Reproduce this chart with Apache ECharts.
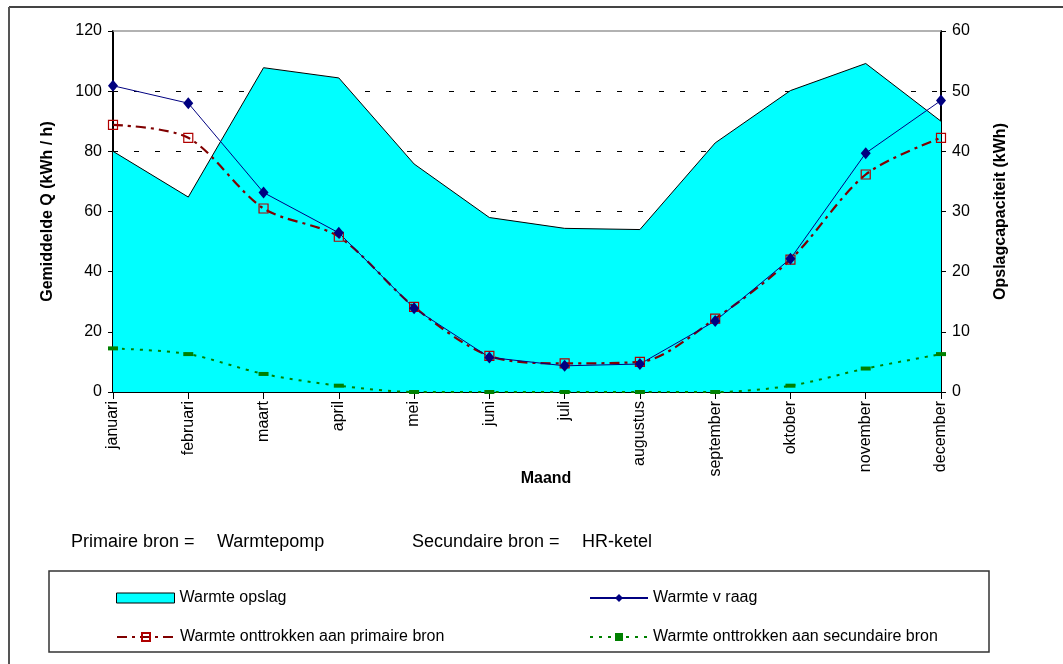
<!DOCTYPE html>
<html>
<head>
<meta charset="utf-8">
<script src="https://cdn.jsdelivr.net/npm/echarts@6/dist/echarts.min.js"></script>
<style>
  html, body { margin: 0; padding: 0; background: #fff; }
  #chart { width: 1063px; height: 664px; }
</style>
</head>
<body>
<div id="chart"></div>
<script>
// maanden
const months = ['januari', 'februari', 'maart', 'april', 'mei', 'juni', 'juli', 'augustus', 'september', 'oktober', 'november', 'december']
// opslagcapaciteit (kWh), rechter as
const opslag = [40, 32.4, 53.9, 52.2, 37.9, 29, 27.2, 27, 41.4, 50.1, 54.6, 45]
// gemiddelde Q (kWh / h), linker as
const vraag = [101.8, 96, 66.3, 52.9, 27.8, 11.5, 8.7, 9.3, 23.6, 44.3, 79.4, 96.9]
const primair = [88.8, 84.5, 61, 51.6, 28.3, 12, 9.5, 10, 24.4, 44, 72.3, 84.5]
const secundair = [14.5, 12.6, 6, 2.1, 0, 0, 0, 0, 0, 2.1, 7.8, 12.6]

const FONT = 'Liberation Sans, Arial, sans-serif'
const chart = echarts.init(document.getElementById('chart'))

const legendBase = {
  orient: 'horizontal',
  itemWidth: 58,
  itemHeight: 10,
  selectedMode: false,
  textStyle: { fontFamily: FONT, fontSize: 16, color: '#000' }
}

const axisNameStyle = { fontFamily: FONT, fontSize: 16, fontWeight: 'bold', color: '#000' }

chart.setOption({
  animation: false,
  textStyle: { fontFamily: FONT },
  grid: { left: 113, right: 122, top: 31, bottom: 272 },
  legend: [
    { ...legendBase, left: 111, top: 585, data: [{ name: 'Warmte opslag', icon: 'rect', itemStyle: { color: '#00ffff', borderColor: '#000', borderWidth: 1 } }] },
    { ...legendBase, left: 584, top: 585, data: ['Warmte v raag'] },
    { ...legendBase, left: 111, top: 624, data: ['Warmte onttrokken aan primaire bron'] },
    { ...legendBase, left: 584, top: 624, data: ['Warmte onttrokken aan secundaire bron'] }
  ],
  xAxis: {
    type: 'category',
    data: months,
    boundaryGap: false,
    name: 'Maand',
    nameLocation: 'middle',
    nameGap: 79,
    nameMoveOverlap: false,
    nameTextStyle: { ...axisNameStyle, padding: [0, 0, 0, 38] },
    axisLine: { lineStyle: { color: '#000', width: 2 } },
    axisTick: { length: 7, lineStyle: { color: '#000' } },
    axisLabel: { rotate: 90, fontSize: 16, color: '#000', margin: 9, interval: 0 }
  },
  yAxis: [
    {
      type: 'value',
      min: 0, max: 120, interval: 20,
      name: 'Gemiddelde Q (kWh / h)',
      nameLocation: 'middle',
      nameRotate: 90,
      nameGap: 57,
      nameMoveOverlap: false,
      nameTextStyle: axisNameStyle,
      axisLine: { show: true, lineStyle: { color: '#000', width: 2 } },
      axisTick: { show: true, length: 5, lineStyle: { color: '#000' } },
      axisLabel: { fontSize: 16, color: '#000', margin: 11 },
      splitLine: {
        show: true,
        lineStyle: {
          color: ['#000', '#000', '#000', '#000', '#000', '#000', 'rgba(0,0,0,0)'],
          type: [5, 16],
          width: 1
        }
      }
    },
    {
      type: 'value',
      min: 0, max: 60, interval: 10,
      name: 'Opslagcapaciteit (kWh)',
      nameLocation: 'middle',
      nameRotate: 90,
      nameGap: 52,
      nameMoveOverlap: false,
      nameTextStyle: axisNameStyle,
      axisLine: { show: true, lineStyle: { color: '#000', width: 2 } },
      axisTick: { show: true, length: 5, lineStyle: { color: '#000' } },
      axisLabel: { fontSize: 16, color: '#000', margin: 11 },
      splitLine: { show: false }
    }
  ],
  series: [
    {
      name: 'Warmte opslag',
      type: 'line',
      yAxisIndex: 1,
      data: opslag,
      symbol: 'none',
      lineStyle: { color: '#000', width: 1 },
      itemStyle: { color: '#00ffff' },
      areaStyle: { color: '#00ffff', opacity: 1 },
      markLine: {
        silent: true,
        symbol: 'none',
        label: { show: false },
        lineStyle: { color: '#999', type: 'solid', width: 1.5 },
        data: [{ yAxis: 60 }]
      }
    },
    {
      name: 'Warmte onttrokken aan primaire bron',
      type: 'line',
      data: primair,
      smooth: 0.3,
      symbol: 'rect',
      symbolSize: 9,
      lineStyle: { color: '#800000', width: 2.2, type: [10, 5, 3, 5] },
      itemStyle: { color: 'rgba(0,0,0,0)', borderColor: '#b00000', borderWidth: 1.2 }
    },
    {
      name: 'Warmte onttrokken aan secundaire bron',
      type: 'line',
      data: secundair,
      smooth: 0.3,
      symbol: 'rect',
      symbolSize: [10, 4],
      lineStyle: { color: '#008000', width: 2, type: [3, 6] },
      itemStyle: { color: '#008000' }
    },
    {
      name: 'Warmte v raag',
      type: 'line',
      data: vraag,
      symbol: 'diamond',
      symbolSize: [10, 12],
      lineStyle: { color: '#000080', width: 1 },
      itemStyle: { color: '#000080' }
    }
  ],
  graphic: [
    { type: 'line', shape: { x1: 9, y1: 7, x2: 1063, y2: 7 }, style: { stroke: '#444', lineWidth: 2 } },
    { type: 'line', shape: { x1: 9, y1: 7, x2: 9, y2: 664 }, style: { stroke: '#555', lineWidth: 2 } },
    { type: 'rect', z: -1, shape: { x: 49, y: 571, width: 940, height: 81 }, style: { fill: '#fff', stroke: '#333', lineWidth: 1.5 } },
    { type: 'text', left: 71, top: 533, style: { text: 'Primaire bron =', font: '18px ' + FONT, fill: '#000' } },
    { type: 'text', left: 217, top: 533, style: { text: 'Warmtepomp', font: '18px ' + FONT, fill: '#000' } },
    { type: 'text', left: 412, top: 533, style: { text: 'Secundaire bron =', font: '18px ' + FONT, fill: '#000' } },
    { type: 'text', left: 582, top: 533, style: { text: 'HR-ketel', font: '18px ' + FONT, fill: '#000' } }
  ]
})
</script>
</body>
</html>
